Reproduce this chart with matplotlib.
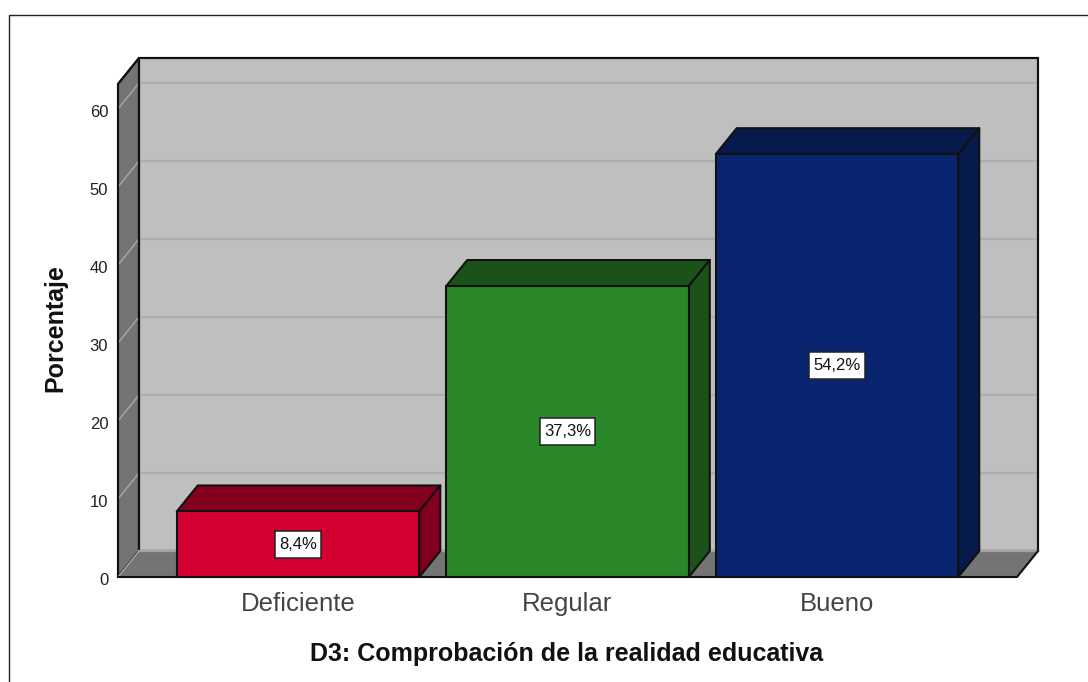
import matplotlib
matplotlib.use("Agg")
import matplotlib.pyplot as plt
from matplotlib.patches import Polygon, Rectangle
from matplotlib.lines import Line2D
from matplotlib.transforms import IdentityTransform, ScaledTranslation

categorias = ["Deficiente", "Regular", "Bueno"]
porcentajes = [8.4, 37.3, 54.2]
etiquetas = ["8,4%", "37,3%", "54,2%"]
ticks_y = [0, 10, 20, 30, 40, 50, 60]

frente = ["#D50032", "#298629", "#0A2570"]
lateral = ["#82001E", "#1A5219", "#061A4C"]

plt.rcParams["font.family"] = ["Liberation Sans", "DejaVu Sans"]

W, H = 1088, 682
fig = plt.figure(figsize=(W / 100, H / 100), dpi=100, facecolor="white")
ax = fig.add_axes([118 / W, 1 - 577 / H, 899 / W, 493 / H])
ax.set_xlim(-0.668, 2.668)
ax.set_ylim(0, 63.2)
ax.patch.set_visible(False)
ax.spines[:].set_visible(False)

# profundidad del efecto 3D, en unidades de datos
dx = 21 / 269.5
dy = 26 / 7.8
x0, x1 = ax.get_xlim()
y1 = ax.get_ylim()[1]
borde = "#111111"


def cara(puntos, color, z, lw=1.5):
    ax.add_patch(Polygon(puntos, closed=True, facecolor=color, edgecolor=borde,
                         linewidth=lw, joinstyle="round", zorder=z, clip_on=False))


pared_izq = [(x0, 0), (x0 + dx, dy), (x0 + dx, y1 + dy), (x0, y1)]
pared_fondo = [(x0 + dx, dy), (x1 + dx, dy), (x1 + dx, y1 + dy), (x0 + dx, y1 + dy)]
suelo = [(x0, 0), (x1, 0), (x1 + dx, dy), (x0 + dx, dy)]

# paredes del fondo
cara(pared_izq, "#747474", 1)
cara(pared_fondo, "#BFBFBF", 1)

# rejilla sobre las paredes
for t in ticks_y[1:]:
    ax.plot([x0 + dx, x1 + dx], [t + dy, t + dy], color="#AEAEAE", lw=1.6, zorder=2, clip_on=False)
    ax.plot([x0, x0 + dx], [t, t + dy], color="#A9A9A9", lw=1.0, zorder=2, clip_on=False)

# contornos por encima de la rejilla
for caras in (pared_izq, pared_fondo):
    ax.add_patch(Polygon(caras, closed=True, facecolor="none", edgecolor=borde,
                         linewidth=1.5, zorder=2.5, clip_on=False))

# suelo: solo el frente y el lado derecho llevan linea negra
ax.add_patch(Polygon(suelo, closed=True, facecolor="#747474", edgecolor="none", zorder=2.6, clip_on=False))
ax.plot([x0 + dx, x1 + dx], [dy, dy], color="#A3A3A3", lw=1.6, zorder=2.7, clip_on=False)
ax.plot([x0, x0 + dx], [0, dy], color="#A9A9A9", lw=1.0, zorder=2.7, clip_on=False)
ax.plot([x0, x1, x1 + dx], [0, 0, dy], color=borde, lw=1.5, zorder=2.8, clip_on=False)

# barras
ancho = 0.9
etiquetas_txt = []
for i, v in enumerate(porcentajes):
    a, b = i - ancho / 2, i + ancho / 2
    cara([(a, v), (b, v), (b + dx, v + dy), (a + dx, v + dy)], lateral[i], 3 + i)
    cara([(b, 0), (b + dx, dy), (b + dx, v + dy), (b, v)], lateral[i], 3 + i)
    cara([(a, 0), (b, 0), (b, v), (a, v)], frente[i], 3 + i)
    etiquetas_txt.append(ax.text(i, v / 2, etiquetas[i], fontsize=12, color="#111111",
                                 ha="center", va="center", zorder=11))

ax.set_xticks(range(len(categorias)), categorias, fontsize=18.5, color="#444444")
ax.set_yticks(ticks_y, [str(t) for t in ticks_y], fontsize=12, color="#222222")
ax.tick_params(axis="x", length=0, pad=11)
ax.tick_params(axis="y", length=0, pad=7)
for lab in ax.get_yticklabels():
    lab.set_transform(lab.get_transform() + ScaledTranslation(0, -1.5 / 72, fig.dpi_scale_trans))

# recuadro blanco de cada etiqueta
fig.canvas.draw()
for t in etiquetas_txt:
    bb = t.get_window_extent()
    cx, cy = (bb.x0 + bb.x1) / 2, (bb.y0 + bb.y1) / 2
    w, h = bb.width + 8, 27
    ax.add_patch(Rectangle((cx - w / 2, cy - h / 2), w, h, transform=IdentityTransform(),
                           facecolor="white", edgecolor="#222222", linewidth=1.1, zorder=10))

fig.text(567 / W, 1 - 653.5 / H, "D3: Comprobación de la realidad educativa", fontsize=18,
         fontweight="bold", color="#111111", ha="center", va="center")
fig.text(55 / W, 1 - 328 / H, "Porcentaje", fontsize=18, fontweight="bold", color="#111111",
         rotation=90, ha="center", va="center")

# marco exterior (sin lado derecho ni inferior)
fig.add_artist(Line2D([9 / W, 9 / W, 1], [0, 1 - 14.5 / H, 1 - 14.5 / H], color="#222222", lw=1))

fig.savefig("out.png", dpi=100)
